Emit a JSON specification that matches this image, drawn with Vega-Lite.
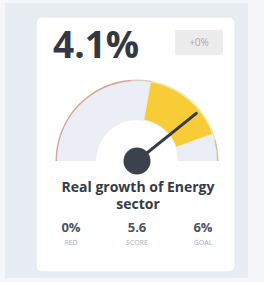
{
  "$schema": "https://vega.github.io/schema/vega-lite/v6.json",
  "width": 264,
  "height": 282,
  "autosize": {"type": "fit", "contains": "padding"},
  "padding": 0,
  "background": "#f6f7fa",
  "config": {
    "view": {"stroke": null},
    "axis": {"disable": true},
    "legend": {"disable": true},
    "text": {"font": "Open Sans"}
  },
  "datasets": {
    "kpi": [{"metric": "Real growth of Energy\nsector", "value": 4.1, "valueLabel": "4.1%", "change": "+0%"}],
    "track": [{"from": -7.2, "to": 7.2}],
    "band": [{"from": 0.8, "to": 5.6}],
    "zones": [
      {"zone": "below red", "from": -7.2, "to": -0.3},
      {"zone": "neutral", "from": -0.3, "to": 0.8},
      {"zone": "target", "from": 0.8, "to": 6},
      {"zone": "above goal", "from": 6, "to": 7.2}
    ],
    "stats": [
      {"stat": "RED", "display": "0%"},
      {"stat": "SCORE", "display": "5.6"},
      {"stat": "GOAL", "display": "6%"}
    ]
  },
  "resolve": {"scale": {"x": "independent"}},
  "layer": [
    {
      "layer": [
        {
          "data": {"values": [{}]},
          "mark": {"type": "rect", "color": "#e8ecf3"},
          "encoding": {
            "x": {"datum": -1.65, "type": "quantitative", "scale": {"domain": [-1.7125, 1.5875], "nice": false, "zero": false}},
            "x2": {"datum": 1.3875},
            "y": {"datum": 1.975, "type": "quantitative", "scale": {"domain": [-1.5125, 2.0125], "nice": false, "zero": false}},
            "y2": {"datum": -1.4625}
          }
        },
        {
          "data": {"values": [{}]},
          "mark": {"type": "rect", "color": "#ffffff", "cornerRadius": 6, "stroke": "#e2e6ee", "strokeWidth": 1},
          "encoding": {
            "x": {"datum": -1.2625, "type": "quantitative"},
            "x2": {"datum": 1.225},
            "y": {"datum": 1.8, "type": "quantitative"},
            "y2": {"datum": -1.3875}
          }
        },
        {
          "data": {"values": [{}]},
          "mark": {"type": "rect", "color": "#ececec", "cornerRadius": 2},
          "encoding": {
            "x": {"datum": 0.475, "type": "quantitative"},
            "x2": {"datum": 1.075},
            "y": {"datum": 1.6375, "type": "quantitative"},
            "y2": {"datum": 1.325}
          }
        },
        {
          "data": {"name": "kpi"},
          "mark": {"type": "text", "fontSize": 10, "color": "#ababab", "align": "center", "baseline": "middle"},
          "encoding": {
            "x": {"datum": 0.775, "type": "quantitative"},
            "y": {"datum": 1.475, "type": "quantitative"},
            "text": {"field": "change"}
          }
        },
        {
          "data": {"name": "kpi"},
          "mark": {"type": "text", "fontSize": 37, "fontWeight": "bold", "color": "#333842", "align": "left", "baseline": "alphabetic"},
          "encoding": {
            "x": {"datum": -1.05, "type": "quantitative"},
            "y": {"datum": 1.2875, "type": "quantitative"},
            "text": {"field": "valueLabel"}
          }
        },
        {
          "data": {"name": "track"},
          "mark": {"type": "arc", "radius": 80, "radius2": 41, "color": "#eceef5"},
          "encoding": {
            "x": {"datum": 0, "type": "quantitative"},
            "y": {"datum": 0, "type": "quantitative"},
            "theta": {"field": "from", "type": "quantitative", "scale": {"domain": [-7.2, 7.2], "range": [-1.5708, 1.5708]}},
            "theta2": {"field": "to"}
          }
        },
        {
          "data": {"name": "band"},
          "mark": {"type": "arc", "radius": 80, "radius2": 42, "color": "#f8cc36"},
          "encoding": {
            "x": {"datum": 0, "type": "quantitative"},
            "y": {"datum": 0, "type": "quantitative"},
            "theta": {"field": "from", "type": "quantitative"},
            "theta2": {"field": "to"}
          }
        },
        {
          "data": {"name": "zones"},
          "mark": {"type": "arc", "radius": 81.5, "radius2": 80},
          "encoding": {
            "x": {"datum": 0, "type": "quantitative"},
            "y": {"datum": 0, "type": "quantitative"},
            "theta": {"field": "from", "type": "quantitative"},
            "theta2": {"field": "to"},
            "color": {"field": "zone", "type": "nominal", "scale": {"domain": ["below red", "neutral", "target", "above goal"], "range": ["#d9a49c", "#d8cfc4", "#f8e39a", "#b8c9a4"]}}
          }
        },
        {
          "data": {"name": "kpi"},
          "mark": {"type": "point", "shape": "M0,0L0,-1", "filled": false, "stroke": "#363c47", "strokeWidth": 3, "strokeCap": "round", "size": 23104, "opacity": 1},
          "encoding": {
            "x": {"datum": 0, "type": "quantitative"},
            "y": {"datum": 0, "type": "quantitative"},
            "angle": {"field": "value", "type": "quantitative", "scale": {"domain": [-7.2, 7.2], "range": [-90, 90]}}
          }
        },
        {
          "data": {"name": "kpi"},
          "mark": {"type": "point", "shape": "circle", "filled": true, "color": "#3b414d", "size": 729, "opacity": 1},
          "encoding": {
            "x": {"datum": 0, "type": "quantitative"},
            "y": {"datum": 0, "type": "quantitative"}
          }
        },
        {
          "data": {"name": "kpi"},
          "mark": {"type": "text", "fontSize": 14, "fontWeight": "bold", "color": "#363b45", "align": "center", "baseline": "alphabetic", "lineBreak": "\n", "lineHeight": 17},
          "encoding": {
            "x": {"datum": 0.0125, "type": "quantitative"},
            "y": {"datum": -0.3875, "type": "quantitative"},
            "text": {"field": "metric"}
          }
        }
      ]
    },
    {
      "data": {"name": "stats"},
      "encoding": {
        "x": {"field": "stat", "type": "nominal", "sort": null, "scale": {"type": "point", "domain": ["RED", "SCORE", "GOAL"], "padding": 1.182, "align": 0.538}},
        "text": {"field": "display"}
      },
      "layer": [
        {
          "mark": {"type": "text", "fontSize": 13, "fontWeight": "bold", "color": "#4d525c", "align": "center", "baseline": "middle"},
          "encoding": {
            "y": {"datum": -0.8375, "type": "quantitative"},
            "text": {"field": "display"}
          }
        },
        {
          "mark": {"type": "text", "fontSize": 7, "color": "#a9adb5", "align": "center", "baseline": "middle", "letterSpacing": 0.6},
          "encoding": {
            "y": {"datum": -1.025, "type": "quantitative"},
            "text": {"field": "stat"}
          }
        }
      ]
    }
  ]
}
